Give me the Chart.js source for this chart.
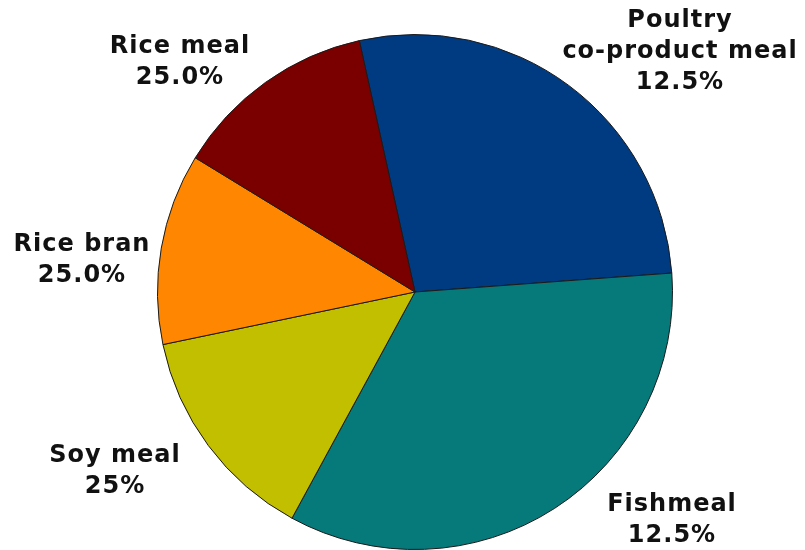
<!DOCTYPE html>
<html>
<head>
<meta charset="utf-8">
<script src="https://cdn.jsdelivr.net/npm/chart.js@4/dist/chart.umd.min.js"></script>
<style>
  html, body { margin: 0; padding: 0; background: #fff; }
  #wrap { width: 805px; height: 550px; }
</style>
</head>
<body>
<div id="wrap"><canvas id="feedChart"></canvas></div>
<script>
// slices in clockwise order from the top
const categories = ['Poultry co-product meal', 'Fishmeal', 'Soy meal', 'Rice bran', 'Rice meal'];
const sliceValues = [27.3, 34.1, 13.8, 12.0, 12.8];
// label text as printed on the original
const labelLines = [
    ['Poultry', 'co-product meal', '12.5%'],
    ['Fishmeal', '12.5%'],
    ['Soy meal', '25%'],
    ['Rice bran', '25.0%'],
    ['Rice meal', '25.0%']
];
const sliceColors = ['#003a80', '#067a7b', '#c2be00', '#ff8600', '#7a0000'];

// where each label block is centred on the canvas
const labelAnchors = [
    { x: 680, y: 52 },
    { x: 672, y: 520 },
    { x: 115, y: 471 },
    { x: 82, y: 260 },
    { x: 180, y: 62 }
];

const outsideLabels = {
    id: 'outsideLabels',
    afterDraw(chart) {
        const ctx = chart.ctx;
        ctx.save();
        ctx.font = 'bold 24px "DejaVu Sans", Verdana, sans-serif';
        ctx.letterSpacing = '1px';
        ctx.fillStyle = '#111';
        ctx.textAlign = 'center';
        ctx.textBaseline = 'middle';
        const lh = 31;
        labelLines.forEach((lines, i) => {
            const a = labelAnchors[i];
            const top = a.y - (lines.length - 1) * lh / 2;
            lines.forEach((t, j) => ctx.fillText(t, a.x, top + j * lh));
        });
        ctx.restore();
    }
};

new Chart(document.getElementById('feedChart'), {
    type: 'pie',
    data: {
        labels: categories,
        datasets: [{
            data: sliceValues,
            backgroundColor: sliceColors,
            borderColor: '#1a1a1a',
            borderWidth: 1
        }]
    },
    options: {
        responsive: true,
        maintainAspectRatio: false,
        animation: false,
        rotation: -12.5,
        layout: {
            padding: { top: 34, bottom: 0, left: 100, right: 75 }
        },
        plugins: {
            legend: { display: false },
            tooltip: { enabled: false }
        }
    },
    plugins: [outsideLabels]
});
</script>
</body>
</html>
